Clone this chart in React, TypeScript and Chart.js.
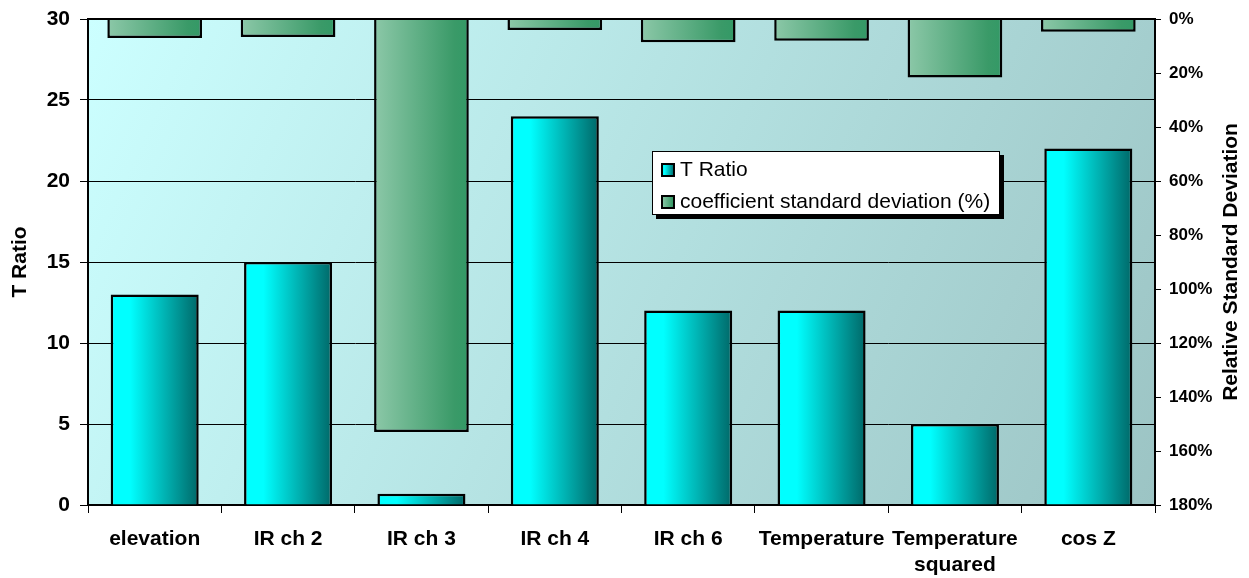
import React, { useEffect, useRef } from 'react';
import { Chart, registerables } from 'chart.js';

Chart.register(...registerables);

const categories: (string | string[])[] = [
  'elevation',
  'IR ch 2',
  'IR ch 3',
  'IR ch 4',
  'IR ch 6',
  'Temperature',
  ['Temperature', 'squared'],
  'cos Z',
];
const tRatio = [13, 15, 0.7, 24, 12, 12, 5, 22];
const coefStdDev = [7.0, 6.7, 153, 4.1, 8.6, 8.1, 21.7, 4.7];
const seriesLabels = ['T Ratio', 'coefficient standard deviation (%)'];
const leftAxisTitle = 'T Ratio';
const rightAxisTitle = 'Relative Standard Deviation';

const FONT = "'Liberation Sans', Arial, sans-serif";
const T_STOPS: [number, string][] = [
  [0, '#00FFFF'],
  [0.22, '#00FFFF'],
  [1, '#006868'],
];
const S_STOPS: [number, string][] = [
  [0, '#8CC8A8'],
  [0.85, '#3A9A68'],
  [1, '#339966'],
];
const T_PCT = 0.66;
const S_PCT = 0.71;

function barGradient(ctx: any, pct: number, stops: [number, string][]) {
  const chart = ctx.chart;
  const xs = chart.scales && chart.scales.x;
  if (!xs || !chart.chartArea || ctx.dataIndex === undefined) return stops[0][1];
  const center = xs.getPixelForValue(ctx.dataIndex);
  const w = (xs.width / categories.length) * pct;
  const g = chart.ctx.createLinearGradient(center - w / 2, 0, center + w / 2, 0);
  stops.forEach(([o, c]) => g.addColorStop(o, c));
  return g;
}

const decorPlugin = {
  id: 'decor',
  beforeDraw(chart: any) {
    const { ctx, chartArea } = chart;
    if (!chartArea) return;
    const { left, top, right, bottom } = chartArea;
    ctx.save();
    const g = ctx.createLinearGradient(left, top, right, bottom);
    g.addColorStop(0, '#CCFFFF');
    g.addColorStop(1, '#9CC4C4');
    ctx.fillStyle = g;
    ctx.fillRect(left, top, right - left, bottom - top);
    ctx.restore();
  },
  afterDraw(chart: any) {
    const { ctx, chartArea } = chart;
    if (!chartArea) return;
    const { left, top, right, bottom } = chartArea;
    ctx.save();
    // top border
    ctx.strokeStyle = '#000';
    ctx.lineWidth = 2;
    ctx.beginPath();
    ctx.moveTo(left - 1, top);
    ctx.lineTo(right + 1, top);
    ctx.stroke();

    // right axis title (reads bottom to top)
    ctx.save();
    ctx.translate(1231, (top + bottom) / 2);
    ctx.rotate(-Math.PI / 2);
    ctx.fillStyle = '#000';
    ctx.font = `bold 21px ${FONT}`;
    ctx.textAlign = 'center';
    ctx.textBaseline = 'middle';
    ctx.fillText(rightAxisTitle, 0, 0);
    ctx.restore();

    // legend
    const lx = left + 564;
    const ly = top + 132;
    const lw = 348;
    const lh = 64;
    ctx.fillStyle = '#000';
    ctx.fillRect(lx + 4, ly + 4, lw, lh);
    ctx.fillStyle = '#FFFFFF';
    ctx.fillRect(lx, ly, lw, lh);
    ctx.strokeStyle = '#000';
    ctx.lineWidth = 1;
    ctx.strokeRect(lx + 0.5, ly + 0.5, lw - 1, lh - 1);

    const items: [string, [number, string][]][] = [
      [seriesLabels[0], T_STOPS],
      [seriesLabels[1], S_STOPS],
    ];
    items.forEach(([label, stops], i) => {
      const sx = lx + 10;
      const base = ly + 25 + i * 32;
      const sy = base - 12;
      const g = ctx.createLinearGradient(sx, 0, sx + 12, 0);
      stops.forEach(([o, c]) => g.addColorStop(o, c));
      ctx.fillStyle = g;
      ctx.fillRect(sx, sy, 12, 12);
      ctx.strokeStyle = '#000';
      ctx.lineWidth = 2;
      ctx.strokeRect(sx, sy, 12, 12);
      ctx.fillStyle = '#000';
      ctx.font = `21px ${FONT}`;
      ctx.textAlign = 'left';
      ctx.textBaseline = 'alphabetic';
      ctx.fillText(label, lx + 28, base);
    });
    ctx.restore();
  },
};

export default function App() {
  const ref = useRef<HTMLCanvasElement | null>(null);

  useEffect(() => {
    document.body.style.margin = '0';
    if (!ref.current) return;
    const chart = new Chart(ref.current, {
      type: 'bar',
      data: {
        labels: categories as any,
        datasets: [
          {
            label: seriesLabels[0],
            data: tRatio,
            yAxisID: 'y',
            grouped: false,
            barPercentage: T_PCT,
            categoryPercentage: 1,
            backgroundColor: (c: any) => barGradient(c, T_PCT, T_STOPS),
            borderColor: '#000',
            borderWidth: 2.5,
            order: 2,
          } as any,
          {
            label: seriesLabels[1],
            data: coefStdDev,
            yAxisID: 'y2',
            grouped: false,
            barPercentage: S_PCT,
            categoryPercentage: 1,
            backgroundColor: (c: any) => barGradient(c, S_PCT, S_STOPS),
            borderColor: '#000',
            borderWidth: 2.5,
            order: 1,
          } as any,
        ],
      },
      options: {
        animation: false,
        responsive: true,
        maintainAspectRatio: false,
        layout: { padding: { top: 19, left: 0, right: 0, bottom: 0 } },
        plugins: {
          legend: { display: false },
          tooltip: { enabled: false },
        },
        scales: {
          x: {
            offset: true,
            grid: {
              offset: true,
              drawOnChartArea: false,
              color: '#000',
              lineWidth: 1,
              tickLength: 8,
            },
            border: { color: '#000', width: 2 },
            ticks: {
              color: '#000',
              font: { family: FONT, size: 21, weight: 'bold', lineHeight: 1.2 },
              padding: 14,
              maxRotation: 0,
              autoSkip: false,
            },
            afterFit: (s: any) => {
              s.height = 73;
              s.paddingLeft = 0;
              s.paddingRight = 0;
            },
          },
          y: {
            position: 'left',
            min: 0,
            max: 30,
            ticks: {
              stepSize: 5,
              color: '#000',
              font: { family: FONT, size: 21, weight: 'bold' },
              padding: 10,
            },
            grid: { color: '#000', lineWidth: 1, tickLength: 8 },
            border: { color: '#000', width: 2 },
            title: {
              display: true,
              text: leftAxisTitle,
              color: '#000',
              font: { family: FONT, size: 21, weight: 'bold' },
              padding: { top: 8, bottom: 0 },
            },
            afterFit: (s: any) => {
              s.width = 88;
              s.paddingTop = 0;
              s.paddingBottom = 0;
            },
          },
          y2: {
            position: 'right',
            reverse: true,
            min: 0,
            max: 180,
            ticks: {
              stepSize: 20,
              color: '#000',
              font: { family: FONT, size: 17, weight: 'bold' },
              padding: 8,
              callback: (v: any) => `${v}%`,
            },
            grid: { drawOnChartArea: false, color: '#000', lineWidth: 1, tickLength: 6 },
            border: { color: '#000', width: 2 },
            afterFit: (s: any) => {
              s.width = 94;
              s.paddingTop = 0;
              s.paddingBottom = 0;
            },
          },
        },
      } as any,
      plugins: [decorPlugin],
    });
    return () => chart.destroy();
  }, []);

  return (
    <div style={{ position: 'relative', width: '1249px', height: '578px', background: '#fff' }}>
      <canvas ref={ref} />
    </div>
  );
}
